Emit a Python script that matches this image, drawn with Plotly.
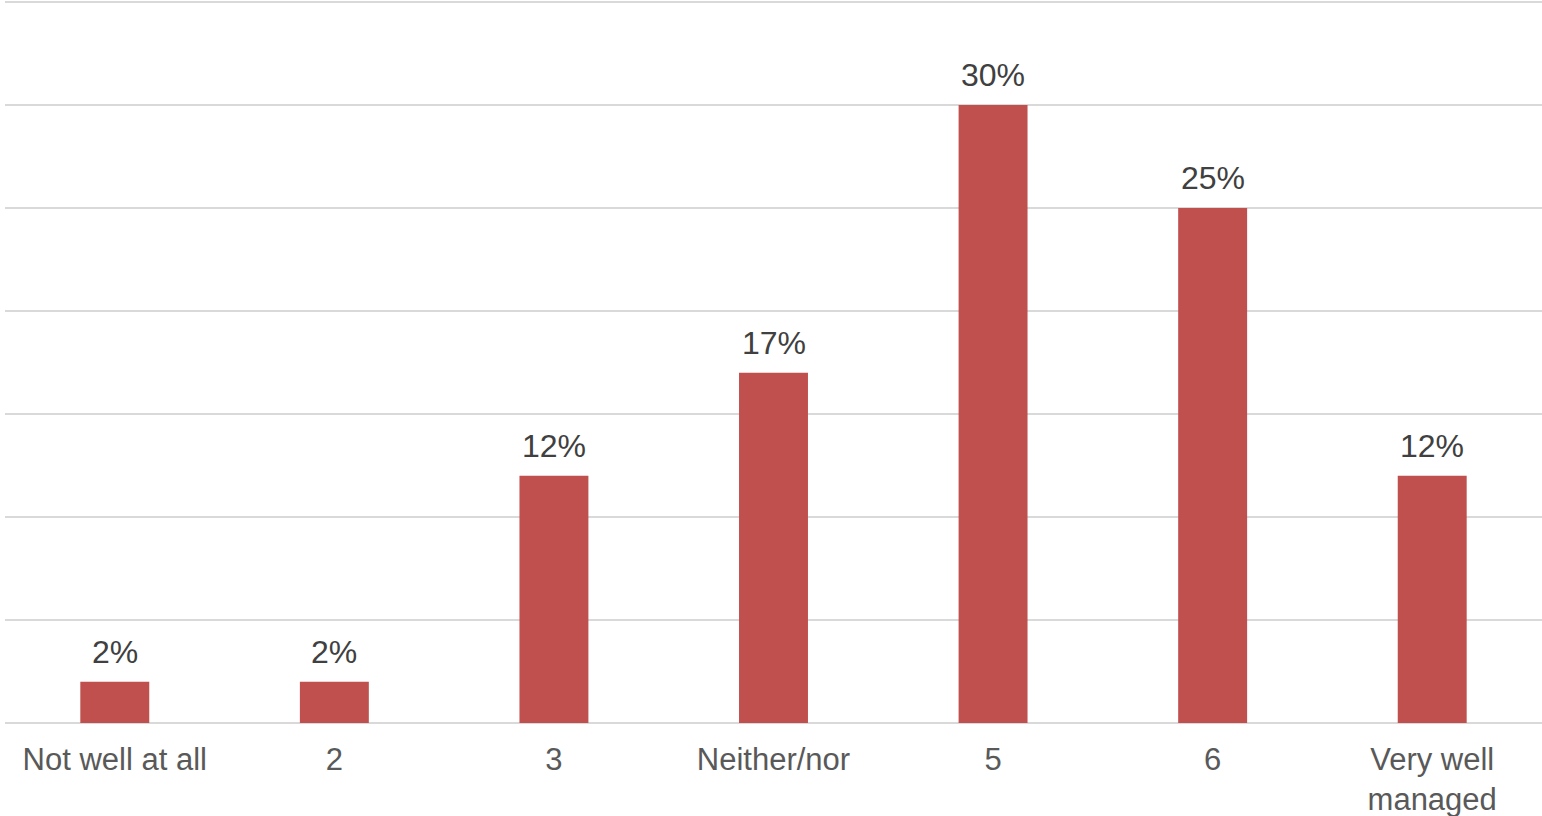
import plotly.graph_objects as go

categories = ["Not well at all", "2", "3", "Neither/nor", "5", "6", "Very well<br>managed"]
values = [2, 2, 12, 17, 30, 25, 12]
labels = ["2%", "2%", "12%", "17%", "30%", "25%", "12%"]

FONT = "Liberation Sans, Arial"

fig = go.Figure(go.Bar(
    x=categories, y=values,
    marker=dict(color="#C0504D", line=dict(width=0)),
    cliponaxis=False,
))

for i, (v, t) in enumerate(zip(values, labels)):
    fig.add_annotation(x=i, y=v, text=t, showarrow=False, yanchor="bottom",
                       yshift=10, font=dict(family=FONT, size=32, color="#404040"))

fig.update_layout(
    width=1542, height=816,
    margin=dict(l=5, r=0, t=0, b=93),
    paper_bgcolor="white", plot_bgcolor="white",
    bargap=0.686,
    showlegend=False,
    font=dict(family=FONT, size=31, color="#595959"),
)
fig.update_yaxes(range=[0, 35.097], dtick=5, showticklabels=False,
                 showgrid=True, gridcolor="#d9d9d9", gridwidth=2,
                 zeroline=True, zerolinecolor="#d9d9d9", zerolinewidth=2)
fig.update_xaxes(type="category", tickfont=dict(family=FONT, size=31, color="#595959"),
                 ticks="", showline=False, ticklabelstandoff=15, automargin=False)

fig.write_html("out.html")
